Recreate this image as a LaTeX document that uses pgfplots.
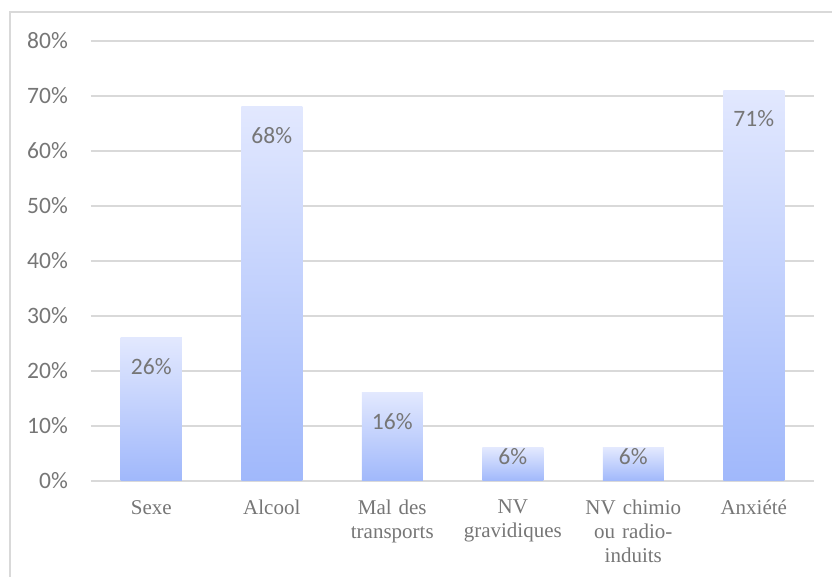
\documentclass[border=0pt]{standalone}
\usepackage{fontspec}
\setmainfont{Liberation Serif}
\newfontfamily\carlito{Carlito}
\usepackage{pgfplots}
\pgfplotsset{compat=1.18}
\definecolor{txtgray}{HTML}{767676}
\definecolor{gridgray}{HTML}{D9D9D9}
\definecolor{bartop}{HTML}{E2E8FE}
\definecolor{barbot}{HTML}{A0B8FB}

\pgfplotsset{
  barre/.style={draw=none, top color=bartop, bottom color=barbot},
  lab/.style={nodes near coords style={yshift=#1}},
}

\begin{document}
\begin{tikzpicture}[x=1bp,y=1bp]
\path[clip, use as bounding box] (-91,-96) rectangle (741,481);
% cadre du graphique (coupe a droite et en bas)
\draw[gridgray, line width=1.2bp] (-81,-120) -- (-81,469) -- (760,469);
\begin{axis}[
    at={(0,0)}, anchor=south west,
    scale only axis, width=723bp, height=440bp,
    ybar, bar width=61bp, bar shift=0pt,
    xmin=-0.5, xmax=5.5, ymin=0, ymax=80,
    axis line style={draw=none},
    major tick length=0pt,
    ymajorgrids,
    major grid style={gridgray, line width=1.5bp},
    ytick={0,10,...,80},
    yticklabels={0\%,10\%,20\%,30\%,40\%,50\%,60\%,70\%,80\%},
    yticklabel style={anchor=east, inner sep=0pt, xshift=-23bp,
        font=\carlito\fontsize{23.5bp}{28bp}\selectfont, text=txtgray},
    xtick={0,...,5},
    xticklabels={Sexe, Alcool, {Mal des\\transports}, {NV\\gravidiques},
        {NV chimio\\ou radio-\\induits}, Anxiété},
    xticklabel style={anchor=north, inner sep=0pt, yshift=-19bp,
        align=center, text width=120bp,
        font=\fontsize{21bp}{24bp}\selectfont, text=txtgray},
    nodes near coords={\pgfmathprintnumber[assume math mode=true,precision=0]{\pgfplotspointmeta}\%},
    every node near coord/.append style={anchor=north, inner sep=0pt,
        font=\carlito\fontsize{23.5bp}{28bp}\selectfont, text=txtgray},
]
% une barre par \addplot pour que chaque barre ait son propre degrade
\addplot[barre, lab=-20bp] coordinates {(0,26)};
\addplot[barre, lab=-20bp] coordinates {(1,68)};
\addplot[barre, lab=-20bp] coordinates {(2,16)};
\addplot[barre, lab=0bp] coordinates {(3,6)};
\addplot[barre, lab=0bp] coordinates {(4,6)};
\addplot[barre, lab=-20bp] coordinates {(5,71)};
\end{axis}
\end{tikzpicture}
\end{document}
